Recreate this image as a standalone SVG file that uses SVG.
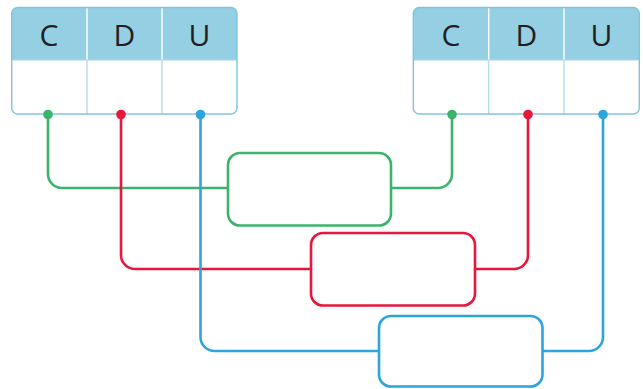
<svg xmlns="http://www.w3.org/2000/svg" width="643" height="389" viewBox="0 0 643 389">
<style>
.hdr{fill:#94cfe4}
.frame{fill:none;stroke:#82c4de;stroke-width:1.4}
.divh{stroke:#ffffff;stroke-width:1.4}
.divb{stroke:#a9d6e8;stroke-width:1.2}
.lbl{font-family:"Open Sans","Noto Sans",sans-serif;font-size:30px;fill:#231f20;text-anchor:middle}
.g{stroke:#3bb46b}
.r{stroke:#e8173c}
.b{stroke:#2ea4dc}
.ln{fill:none;stroke-width:2.6}
.box{fill:#ffffff;stroke-width:2.6}
</style>
<g id="table-left">
<path class="hdr" d="M11.7,60 V13.5 a6,6 0 0 1 6,-6 H231 a6,6 0 0 1 6,6 V60 Z"/>
<line class="divh" x1="87" y1="7.5" x2="87" y2="60"/>
<line class="divh" x1="162" y1="7.5" x2="162" y2="60"/>
<line class="divb" x1="87" y1="60" x2="87" y2="114"/>
<line class="divb" x1="162" y1="60" x2="162" y2="114"/>
<line class="divb" x1="11.7" y1="60" x2="237" y2="60"/>
<rect class="frame" x="11.7" y="7.5" width="225.3" height="106.5" rx="6"/>
<text class="lbl" x="49" y="45.5">C</text>
<text class="lbl" x="124.5" y="45.5">D</text>
<text class="lbl" x="199.5" y="45.5">U</text>
</g>
<g id="table-right">
<path class="hdr" d="M413.3,60 V13.5 a6,6 0 0 1 6,-6 H633.3 a6,6 0 0 1 6,6 V60 Z"/>
<line class="divh" x1="488.7" y1="7.5" x2="488.7" y2="60"/>
<line class="divh" x1="564" y1="7.5" x2="564" y2="60"/>
<line class="divb" x1="488.7" y1="60" x2="488.7" y2="114"/>
<line class="divb" x1="564" y1="60" x2="564" y2="114"/>
<line class="divb" x1="413.3" y1="60" x2="639.3" y2="60"/>
<rect class="frame" x="413.3" y="7.5" width="226" height="106.5" rx="6"/>
<text class="lbl" x="451" y="45.5">C</text>
<text class="lbl" x="526.5" y="45.5">D</text>
<text class="lbl" x="601.5" y="45.5">U</text>
</g>
<g id="connectors">
<path class="ln g" d="M48,114 V174 a14,14 0 0 0 14,14 H228 M391,188 H438 a14,14 0 0 0 14,-14 V114"/>
<path class="ln r" d="M121,114 V255 a14,14 0 0 0 14,14 H311 M475,269 H514 a14,14 0 0 0 14,-14 V114"/>
<path class="ln b" d="M200.5,114 V337 a14,14 0 0 0 14,14 H379 M542,351 H589 a14,14 0 0 0 14,-14 V114"/>
<circle cx="48" cy="114.5" r="4.8" fill="#3bb46b"/>
<circle cx="121" cy="114.5" r="4.8" fill="#e8173c"/>
<circle cx="200.5" cy="114.5" r="4.8" fill="#2ea4dc"/>
<circle cx="452" cy="114.5" r="4.8" fill="#3bb46b"/>
<circle cx="528" cy="114.5" r="4.8" fill="#e8173c"/>
<circle cx="603" cy="114.5" r="4.8" fill="#2ea4dc"/>
</g>
<g id="box-green"><rect class="box g" x="228" y="153" width="163" height="72.5" rx="12"/></g>
<g id="box-red"><rect class="box r" x="311" y="233" width="164" height="72.5" rx="12"/></g>
<g id="box-blue"><rect class="box b" x="379" y="316" width="163.5" height="70.5" rx="12"/></g>
</svg>
